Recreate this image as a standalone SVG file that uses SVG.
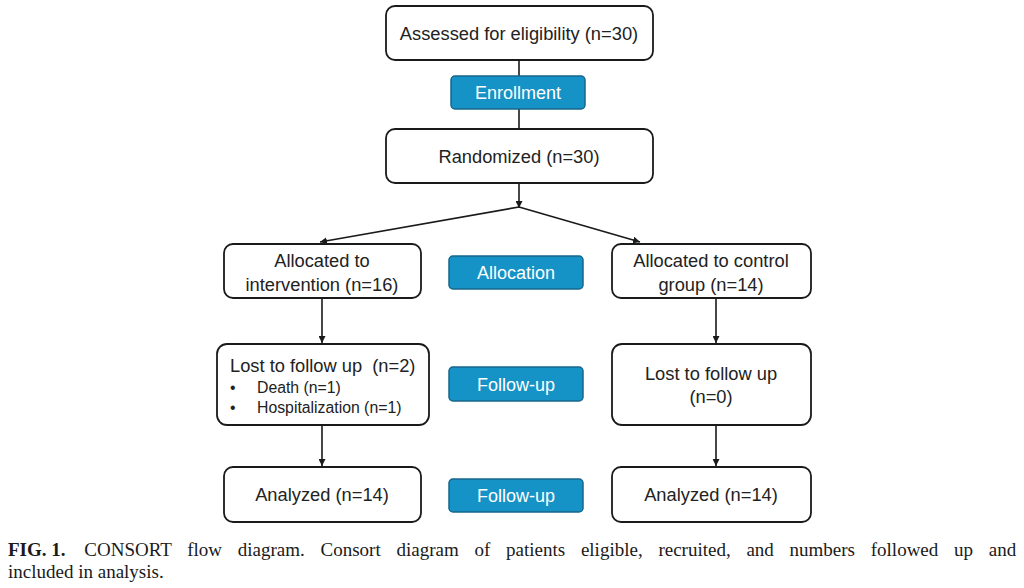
<svg xmlns="http://www.w3.org/2000/svg" width="1024" height="588" viewBox="0 0 1024 588">
<defs>
<style>
.box{fill:#fff;stroke:#1a1a1a;stroke-width:1.8}
.blue{fill:#1593c6;stroke:#17678c;stroke-width:1.5}
.t{font-family:"Liberation Sans",Arial,sans-serif;font-size:18.3px;fill:#222;text-anchor:middle}
.ts{font-family:"Liberation Sans",Arial,sans-serif;font-size:15.8px;fill:#222}
.tw{font-family:"Liberation Sans",Arial,sans-serif;font-size:18px;fill:#fff;text-anchor:middle}
.ln{stroke:#1a1a1a;stroke-width:1.6;fill:none}
.cap{font-family:"Liberation Serif","Times New Roman",serif;font-size:19px;fill:#1a1a1a}
</style>
<marker id="ah" viewBox="0 0 10 10" refX="10" refY="5" markerWidth="7" markerHeight="7" orient="auto" markerUnits="userSpaceOnUse">
<path d="M0,0 L10,5 L0,10 z" fill="#1a1a1a"/>
</marker>
</defs>
<rect width="1024" height="588" fill="#fff"/>
<g id="connectors">
<line class="ln" x1="519" y1="60" x2="519" y2="76"/>
<line class="ln" x1="519" y1="109" x2="519" y2="129"/>
<line class="ln" x1="519" y1="183" x2="519" y2="208" marker-end="url(#ah)"/>
<line class="ln" x1="519" y1="207" x2="320" y2="242" marker-end="url(#ah)"/>
<line class="ln" x1="519" y1="207" x2="640" y2="242" marker-end="url(#ah)"/>
<line class="ln" x1="322" y1="298" x2="322" y2="343" marker-end="url(#ah)"/>
<line class="ln" x1="716" y1="298" x2="716" y2="343" marker-end="url(#ah)"/>
<line class="ln" x1="322" y1="425" x2="322" y2="466" marker-end="url(#ah)"/>
<line class="ln" x1="716" y1="425" x2="716" y2="466" marker-end="url(#ah)"/>
</g>
<g id="assessed">
<rect class="box" x="386" y="6" width="267" height="54" rx="9"/>
<text class="t" x="519" y="40">Assessed for eligibility (n=30)</text>
</g>
<g id="enrollment">
<rect class="blue" x="451" y="76" width="134" height="33" rx="4"/>
<text class="tw" x="518" y="99">Enrollment</text>
</g>
<g id="randomized">
<rect class="box" x="386" y="129" width="267" height="54" rx="9"/>
<text class="t" x="519" y="163">Randomized (n=30)</text>
</g>
<g id="alloc-int">
<rect class="box" x="224" y="244" width="197" height="54" rx="9"/>
<text class="t" x="322" y="267">Allocated to</text>
<text class="t" x="322" y="291">intervention (n=16)</text>
</g>
<g id="allocation">
<rect class="blue" x="449" y="256" width="134" height="33" rx="4"/>
<text class="tw" x="516" y="279">Allocation</text>
</g>
<g id="alloc-ctrl">
<rect class="box" x="612" y="244" width="199" height="54" rx="9"/>
<text class="t" x="711" y="267">Allocated to control</text>
<text class="t" x="711" y="291">group (n=14)</text>
</g>
<g id="lost-int">
<rect class="box" x="217" y="344" width="212" height="81" rx="10"/>
<text class="t" x="230" y="372" style="text-anchor:start" xml:space="preserve">Lost to follow up  (n=2)</text>
<text class="ts" x="230" y="393">•</text>
<text class="ts" x="257" y="393">Death (n=1)</text>
<text class="ts" x="230" y="413">•</text>
<text class="ts" x="257" y="413">Hospitalization (n=1)</text>
</g>
<g id="followup1">
<rect class="blue" x="449" y="367" width="134" height="34" rx="4"/>
<text class="tw" x="516" y="390.5">Follow-up</text>
</g>
<g id="lost-ctrl">
<rect class="box" x="612" y="344" width="199" height="81" rx="10"/>
<text class="t" x="711" y="380">Lost to follow up</text>
<text class="t" x="711" y="403">(n=0)</text>
</g>
<g id="analyzed-int">
<rect class="box" x="224" y="467" width="197" height="55" rx="9"/>
<text class="t" x="322" y="501">Analyzed (n=14)</text>
</g>
<g id="followup2">
<rect class="blue" x="449" y="479" width="134" height="33" rx="4"/>
<text class="tw" x="516" y="502">Follow-up</text>
</g>
<g id="analyzed-ctrl">
<rect class="box" x="612" y="467" width="199" height="55" rx="9"/>
<text class="t" x="711" y="501">Analyzed (n=14)</text>
</g>
<g id="caption">
<text class="cap" x="8" y="556" word-spacing="11" xml:space="preserve"><tspan font-weight="bold" word-spacing="0">FIG. 1.</tspan><tspan word-spacing="14"> </tspan>CONSORT flow diagram. Consort diagram of patients eligible, recruited, and numbers followed up and</text>
<text class="cap" x="8" y="578">included in analysis.</text>
</g>
</svg>
